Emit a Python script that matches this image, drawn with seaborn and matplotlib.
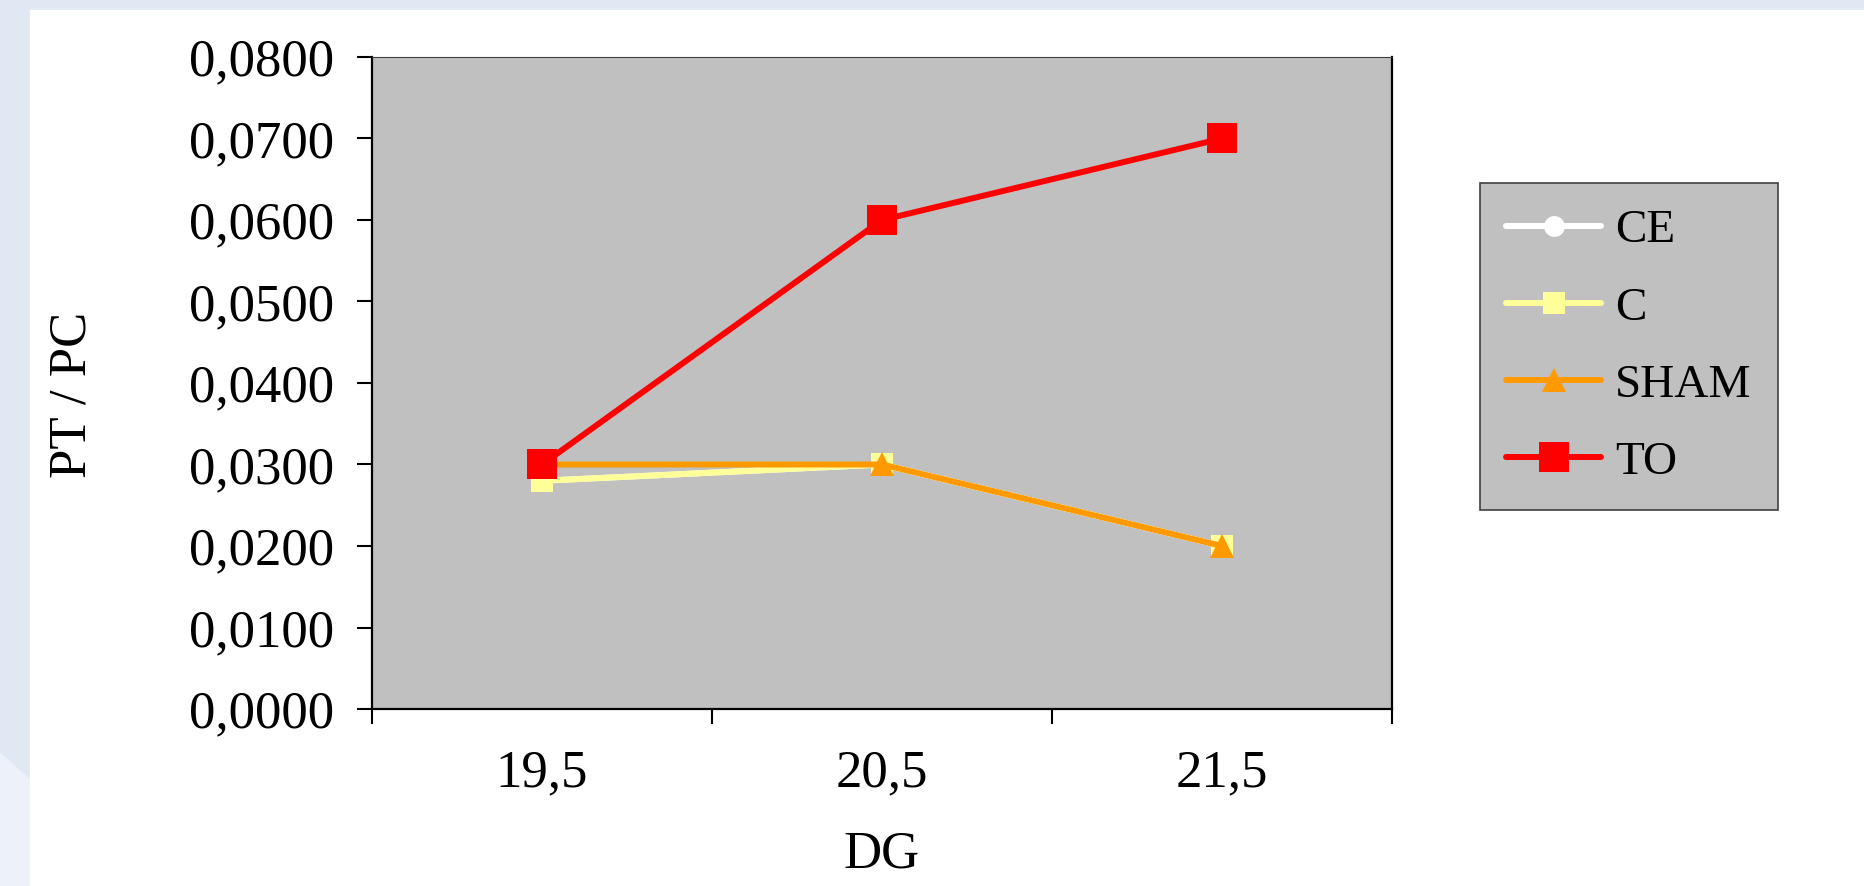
import matplotlib
matplotlib.use('Agg')
import matplotlib.pyplot as plt
from matplotlib.patches import Rectangle, Polygon
from matplotlib.ticker import FixedLocator
import seaborn as sns
import pandas as pd
import numpy as np

sns.set_style('white')
plt.rcParams['font.family'] = ['Liberation Serif', 'DejaVu Serif']
plt.rcParams['text.color'] = 'black'
plt.rcParams['axes.labelcolor'] = 'black'
plt.rcParams['xtick.color'] = 'black'
plt.rcParams['ytick.color'] = 'black'

dg = ['19,5', '20,5', '21,5']
ce = [0.028, 0.030, 0.020]
c = [0.028, 0.030, 0.020]
sham = [0.030, 0.030, 0.020]
to = [0.030, 0.060, 0.070]
yticks = [0.0, 0.01, 0.02, 0.03, 0.04, 0.05, 0.06, 0.07, 0.08]

W, H = 1865, 886
fig = plt.figure(figsize=(W / 100, H / 100), dpi=100)
fig.patch.set_facecolor('white')

# light blue page frame
fig.patches.append(Rectangle((0, 0), 1, 1, transform=fig.transFigure,
                             color='#e0e8f4', zorder=-3))
fig.patches.append(Polygon([(0, 1 - 753 / H), (30 / W, 1 - 780 / H), (30 / W, 0), (0, 0)],
                           closed=True, transform=fig.transFigure,
                           color='#edf1f9', zorder=-2))
fig.patches.append(Rectangle((30 / W, 0), 1, 1 - 10 / H, transform=fig.transFigure,
                             color='white', zorder=-1))

ax = fig.add_axes([372 / W, 1 - 709 / H, (1392 - 372) / W, (709 - 57) / H])
ax.set_facecolor('#c0c0c0')

x = np.arange(len(dg))
series = [
    ('CE', ce, 'white', 'o', 15),
    ('C', c, '#ffff99', 's', 16),
    ('SHAM', sham, '#ff9900', '^', 17),
    ('TO', to, '#ff0000', 's', 22),
]
for name, vals, col, mk, ms in series:
    sns.lineplot(x=x, y=vals, ax=ax, color=col, marker=mk, markersize=ms,
                 markeredgewidth=0, linewidth=4.3, label=name)

ax.set_xlim(-0.5, len(dg) - 0.5)
ax.set_ylim(0, 0.08)
ax.set_yticks(yticks)
ax.set_yticklabels([f'{v:.4f}'.replace('.', ',') for v in yticks])
ax.xaxis.set_major_locator(FixedLocator(np.arange(-0.5, len(dg), 1.0)))
ax.xaxis.set_minor_locator(FixedLocator(x))
ax.set_xticklabels([])
ax.set_xticklabels(dg, minor=True)
ax.tick_params(axis='x', which='major', direction='out', length=11, width=1.5,
               bottom=True, color='black')
ax.tick_params(axis='x', which='minor', length=0, pad=29, labelsize=38,
               labelcolor='black')
ax.tick_params(axis='y', direction='out', length=11, width=1.5, left=True,
               pad=16, labelsize=38, color='black', labelcolor='black')

for side in ['left', 'bottom', 'right', 'top']:
    ax.spines[side].set_visible(True)
    ax.spines[side].set_color('black')
ax.spines['left'].set_linewidth(1.6)
ax.spines['bottom'].set_linewidth(1.6)
ax.spines['right'].set_linewidth(1.6)
ax.spines['top'].set_linewidth(0.8)
ax.spines['top'].set_color('#404040')

ax.set_xlabel('DG', fontsize=38, color='black')
ax.set_ylabel('PT / PC', fontsize=38, color='black')
ax.xaxis.set_label_coords(0.5, -(854 - 709) / (709 - 57), transform=ax.transAxes)
ax.yaxis.set_label_coords(-(372 - 73) / (1392 - 372), 1 - (395 - 57) / (709 - 57))
ax.xaxis.label.set_verticalalignment('center')
ax.yaxis.label.set_verticalalignment('center')

handles, labels = ax.get_legend_handles_labels()
ax.get_legend().remove()
leg = fig.legend(handles, labels, loc='upper left',
                 bbox_to_anchor=(1480 / W, 1 - 183 / H), borderaxespad=0,
                 fontsize=34, frameon=True, fancybox=False, handlelength=2.0,
                 handletextpad=0.3, labelspacing=0.72, borderpad=0.56)
leg.get_frame().set_facecolor('#c0c0c0')
leg.get_frame().set_edgecolor('#404040')
leg.get_frame().set_linewidth(1.2)
leg.get_frame().set_alpha(1)
for t in leg.get_texts():
    t.set_color('black')

fig.savefig('out.png', dpi=100)
